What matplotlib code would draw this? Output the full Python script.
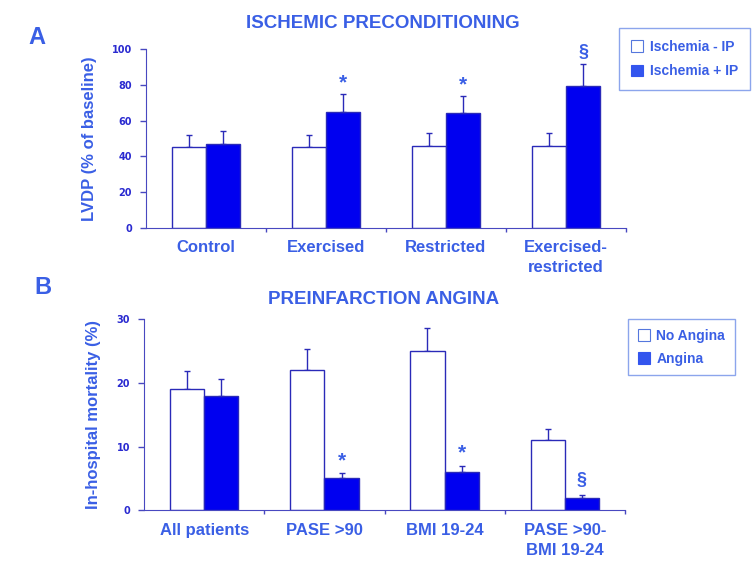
import matplotlib
matplotlib.use("Agg")
import matplotlib.pyplot as plt
from matplotlib.patches import Patch
import numpy as np

plt.rcParams['font.family'] = ['Liberation Sans', 'DejaVu Sans']

# Panel A data
cats_a = ["Control", "Exercised", "Restricted", "Exercised-\nrestricted"]
noip_a = [45, 45, 46, 46]
noip_err_a = [7, 7, 7, 7]
ip_a = [47, 65, 64, 79.5]
ip_err_a = [7, 10, 9.5, 12]
sig_a = ["", "*", "*", "§"]
yticks_a = [0, 20, 40, 60, 80, 100]

# Panel B data
cats_b = ["All patients", "PASE >90", "BMI 19-24", "PASE >90-\nBMI 19-24"]
noang_b = [19, 22, 25, 11]
noang_err_b = [2.9, 3.4, 3.7, 1.7]
ang_b = [18, 5, 6, 2]
ang_err_b = [2.7, 0.9, 0.9, 0.4]
sig_b = ["", "*", "*", "§"]
yticks_b = [0, 10, 20, 30]

TXT = '#3a5fe5'
AX = '#4848c0'
BLUE = '#0000f0'
EDGE = '#2a2ab8'

fig = plt.figure(figsize=(7.56, 5.67), dpi=100)

def panel(rect, cats, v1, e1, v2, e2, sig, yticks, ymax, ylabel, title, letter, letter_xy,
          title_y, leg_labels, leg_xy, sig_offsets, leg_pad, leg_sp):
    ax = fig.add_axes(rect)
    n = len(cats)
    x = np.arange(n) + 0.5
    w = 0.285
    ax.bar(x - w/2, v1, w, color='white', edgecolor=EDGE, linewidth=1.0, zorder=2)
    ax.bar(x + w/2, v2, w, color=BLUE, edgecolor=EDGE, linewidth=1.0, zorder=2)
    ax.errorbar(x - w/2, v1, yerr=[np.zeros(n), e1], fmt='none', ecolor=EDGE,
                elinewidth=1.0, capsize=2.2, capthick=1.0, zorder=1)
    ax.errorbar(x + w/2, v2, yerr=[np.zeros(n), e2], fmt='none', ecolor=EDGE,
                elinewidth=1.0, capsize=2.2, capthick=1.0, zorder=3)
    for i in range(n):
        if sig[i]:
            ax.text(x[i] + w/2, v2[i] + e2[i] + sig_offsets[i], sig[i], ha='center', va='bottom',
                    color=TXT, fontsize=15 if sig[i] == '*' else 13, fontweight='bold')
    ax.set_xlim(0, n)
    ax.set_ylim(0, ymax)
    ax.set_yticks(yticks)
    ax.set_yticklabels([str(t) for t in yticks], fontsize=7, fontweight='bold', color='#2a2ad0',
                       family='DejaVu Sans')
    ax.set_xticks(np.arange(1, n + 1))
    ax.set_xticklabels([])
    ax.tick_params(axis='x', length=3, color=AX, width=1)
    ax.tick_params(axis='y', length=4, color=AX, width=1, pad=6)
    for i in range(n):
        ax.text(x[i], -0.065 * ymax, cats[i], ha='center', va='top', color=TXT,
                fontsize=12, fontweight='bold', linespacing=1.45)
    for s in ['top', 'right']:
        ax.spines[s].set_visible(False)
    ax.spines['left'].set_color(AX)
    ax.spines['bottom'].set_color(AX)
    ax.set_ylabel(ylabel, color=TXT, fontsize=12, fontweight='bold', labelpad=11)
    fig.text(0.507, title_y, title, ha='center', va='center', color=TXT,
             fontsize=13.5, fontweight='bold')
    fig.text(letter_xy[0], letter_xy[1], letter, ha='center', va='center', color=TXT,
             fontsize=17, fontweight='bold')
    handles = [Patch(facecolor='white', edgecolor='#5577dd', linewidth=0.8),
               Patch(facecolor='#3355ee', edgecolor='#3355ee', linewidth=0.8)]
    leg = fig.legend(handles, leg_labels, loc='upper left', bbox_to_anchor=leg_xy,
                     borderaxespad=0, frameon=True, fancybox=False, handlelength=0.9,
                     handleheight=0.9, handletextpad=0.45, borderpad=leg_pad,
                     labelspacing=leg_sp,
                     prop={'size': 10.0, 'weight': 'bold'}, labelcolor=TXT)
    leg.get_frame().set_edgecolor('#6f8fe8')
    leg.get_frame().set_linewidth(1.0)
    return ax

panel([146/756, 1-228/567, 480/756, 179/567], cats_a, noip_a, noip_err_a, ip_a, ip_err_a,
      sig_a, yticks_a, 100, "LVDP (% of baseline)", "ISCHEMIC PRECONDITIONING", "A",
      (37/756, 1-37/567), 1-24/567, ["Ischemia - IP", "Ischemia + IP"],
      (619/756, 1-28/567), [0, 1.0, 1.0, 2.0], 0.85, 0.75)

panel([144/756, 1-510.3/567, 481/756, 191/567], cats_b, noang_b, noang_err_b, ang_b, ang_err_b,
      sig_b, yticks_b, 30, "In-hospital mortality (%)", "PREINFARCTION ANGINA", "B",
      (43/756, 1-287/567), 1-299/567, ["No Angina", "Angina"],
      (628/756, 1-319/567), [0, 0.3, 0.6, 1.0], 0.7, 0.65)

fig.savefig("out.png", dpi=100)
